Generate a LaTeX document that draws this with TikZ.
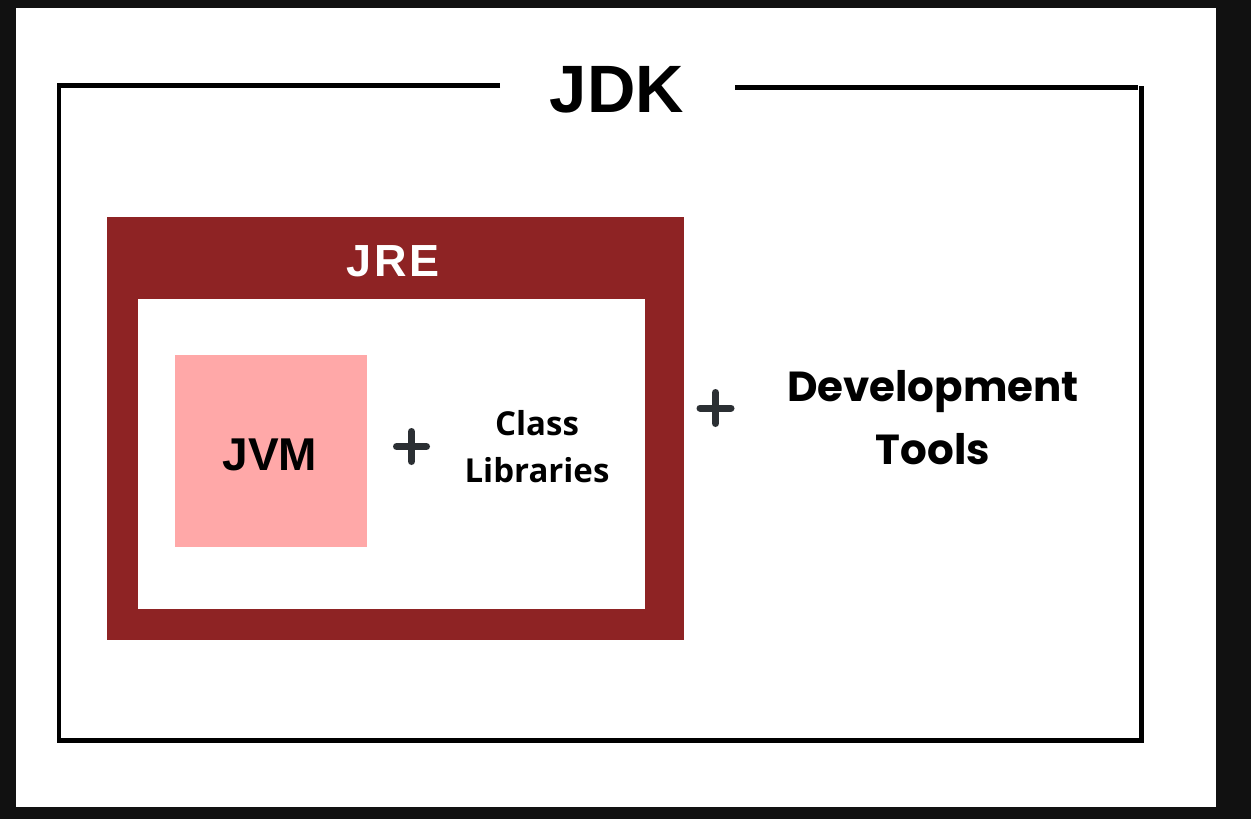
\documentclass[tikz,border=0pt]{standalone}
\usepackage{fontspec}
\setmainfont{Liberation Sans}
\newfontfamily\poppfont{Poppins}
\newfontfamily\openfont{Open Sans}
\newfontfamily\jrefont[LetterSpace=7]{Liberation Sans}
\definecolor{bgdark}{HTML}{111111}
\definecolor{jrered}{HTML}{8E2324}
\definecolor{jvmpink}{HTML}{FFA8A8}
\definecolor{plusgray}{HTML}{2B2F33}
\tikzset{
  frameline/.style={line width=4.5pt, black, line join=miter},
  plussign/.style={line width=7pt, plusgray, line cap=round},
  boxnode/.style={inner sep=0pt, outer sep=0pt, draw=none},
}
\begin{document}
\begin{tikzpicture}[x=1pt,y=-1pt]
\useasboundingbox (0,0) rectangle (1251,819);
\fill[bgdark] (0,0) rectangle (1251,819);
\fill[white] (16,8) rectangle (1216,807);
% JDK frame
\coordinate (jdkA) at (500,85.5);
\coordinate (jdkB) at (59,85.5);
\coordinate (jdkC) at (59,740.5);
\coordinate (jdkD) at (1141.5,740.5);
\coordinate (jdkE) at (1141.5,86);
\coordinate (jdkF) at (735,87.5);
\coordinate (jdkG) at (1138,87.5);
\draw[frameline] (jdkA) -- (jdkB) -- (jdkC) -- (jdkD) -- (jdkE);
\draw[frameline] (jdkF) -- (jdkG);
\node[boxnode, anchor=base, font=\bfseries\fontsize{67}{80}\selectfont] (jdk) at (617,112) {JDK};
% JRE
\node[boxnode, fill=jrered, minimum width=577pt, minimum height=423pt] (jre) at (395,428) {};
\node[boxnode, fill=white, minimum width=507pt, minimum height=310pt] (jreinner) at (391,454) {};
\node[boxnode, anchor=base, text=white, font=\jrefont\bfseries\fontsize{45}{54}\selectfont] (jrelabel) at (393,276) {JRE};
% JVM
\node[boxnode, fill=jvmpink, minimum width=192pt, minimum height=192pt] (jvm) at (271,451) {};
\node[boxnode, anchor=base, font=\bfseries\fontsize{46}{54}\selectfont] (jvmlabel) at (270,470) {JVM};
% plus signs
\coordinate (plusA) at (411.5,446.5);
\coordinate (plusB) at (715.5,408);
\draw[plussign] ([xshift=-15pt]plusA) -- ([xshift=15pt]plusA);
\draw[plussign] ([yshift=-15pt]plusA) -- ([yshift=15pt]plusA);
\draw[plussign] ([xshift=-15.5pt]plusB) -- ([xshift=15.5pt]plusB);
\draw[plussign] ([yshift=-15.5pt]plusB) -- ([yshift=15.5pt]plusB);
% Class Libraries
\node[boxnode, align=center, font=\openfont\bfseries\fontsize{33}{47}\selectfont] (classlib) at (537,446.5) {Class\\Libraries};
% Development Tools
\node[boxnode, align=center, font=\poppfont\bfseries\fontsize{42}{63}\selectfont] (devtools) at (933,418) {Development\\Tools};
\end{tikzpicture}
\end{document}
